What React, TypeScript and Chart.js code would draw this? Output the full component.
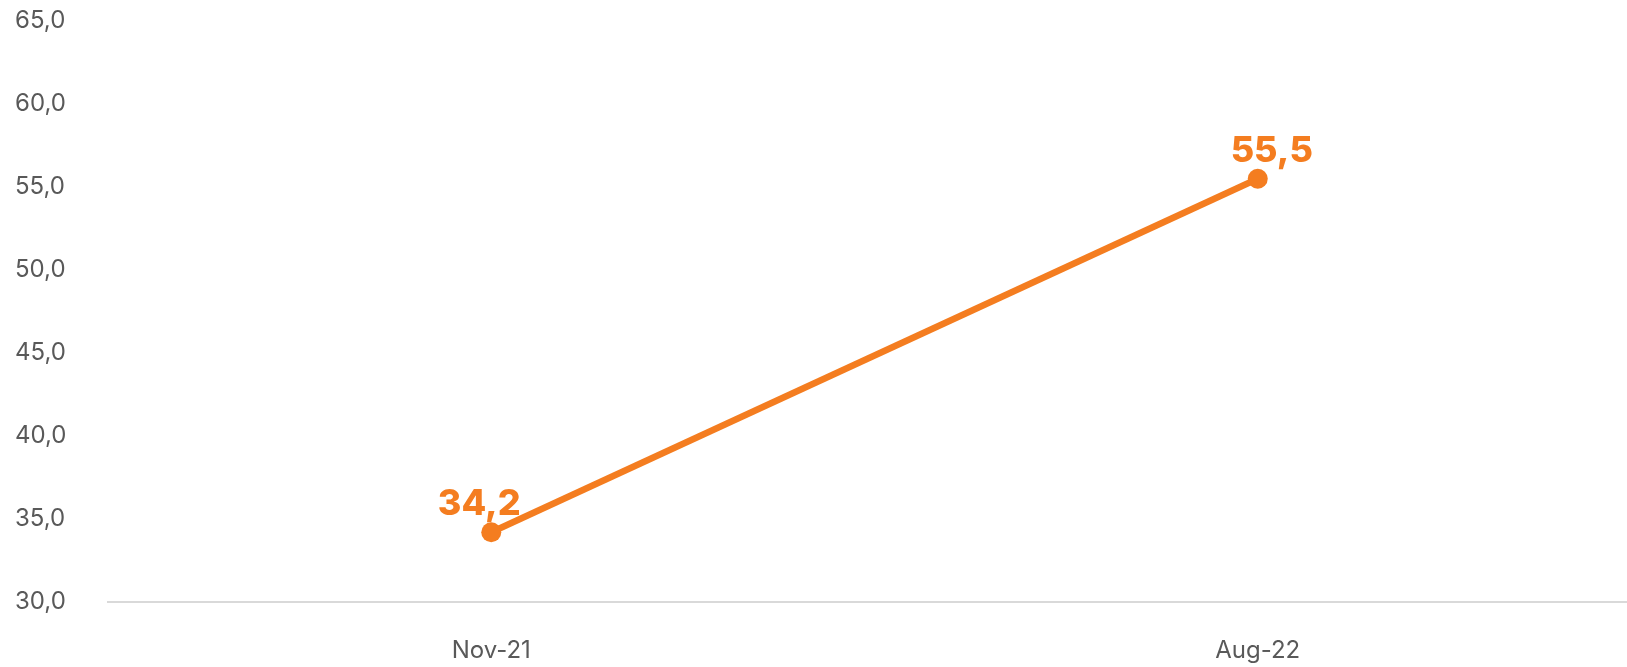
import React, { useEffect, useRef } from "react";
import { Chart, registerables } from "chart.js";

Chart.register(...registerables);

const categories = ["Nov-21", "Aug-22"];
const values = [34.2, 55.5];
const yMin = 30;
const yMax = 65;
const yStep = 5;

const ORANGE = "#F47D20";
const labelOffsetsX = [-12, 14];
const labelOffsetY = -28;
const extendRight = 14;

const fmt = (v: number) => v.toFixed(1).replace(".", ",");

const valueLabels = {
  id: "valueLabels",
  afterDatasetsDraw(chart: any) {
    const ctx = chart.ctx;
    const meta = chart.getDatasetMeta(0);
    ctx.save();
    ctx.font = "800 36px Inter";
    ctx.fillStyle = ORANGE;
    ctx.textAlign = "center";
    ctx.textBaseline = "middle";
    meta.data.forEach((el: any, i: number) => {
      ctx.fillText(fmt(values[i]), el.x + labelOffsetsX[i], el.y + labelOffsetY);
    });
    ctx.restore();
  },
};

const widenArea = {
  id: "widenArea",
  afterLayout(chart: any) {
    const x = chart.scales.x;
    x.right += extendRight;
    x.width += extendRight;
    chart.chartArea.right += extendRight;
    chart.chartArea.width += extendRight;
    x.configure();
  },
};

export default function App() {
  const ref = useRef<HTMLCanvasElement>(null);
  useEffect(() => {
    if (!ref.current) return;
    const chart = new Chart(ref.current, {
      type: "line",
      data: {
        labels: categories,
        datasets: [
          {
            data: values,
            borderColor: ORANGE,
            backgroundColor: ORANGE,
            borderWidth: 6.5,
            pointRadius: 10,
            pointHoverRadius: 10,
            pointBackgroundColor: ORANGE,
            pointBorderWidth: 0,
            tension: 0,
            clip: false,
          },
        ],
      },
      options: {
        animation: false,
        responsive: false,
        maintainAspectRatio: false,
        devicePixelRatio: 1,
        layout: { autoPadding: false, padding: { top: 21, right: 0, bottom: 2, left: 15 } },
        plugins: { legend: { display: false }, tooltip: { enabled: false } },
        scales: {
          x: {
            offset: true,
            grid: { display: false, drawTicks: false },
            border: { display: true, color: "#D9D9D9", width: 2 },
            ticks: { color: "#595959", font: { family: "Inter", size: 24 }, padding: 34, maxRotation: 0 },
            afterFit: (s: any) => {
              s.height = 63;
            },
          },
          y: {
            min: yMin,
            max: yMax,
            grid: { display: false, drawTicks: false },
            border: { display: false },
            ticks: {
              stepSize: yStep,
              color: "#595959",
              font: { family: "Inter", size: 24 },
              padding: 0,
              crossAlign: "far",
              callback: (v: any) => fmt(Number(v)),
            },
            afterFit: (s: any) => {
              s.width = 93;
            },
          },
        },
      },
      plugins: [valueLabels, widenArea],
    });
    return () => chart.destroy();
  }, []);
  return (
    <div style={{ position: "fixed", left: 0, top: 0, width: 1627, height: 667, background: "#fff" }}>
      <canvas ref={ref} width={1627} height={667} style={{ display: "block", width: 1627, height: 667 }} />
    </div>
  );
}
